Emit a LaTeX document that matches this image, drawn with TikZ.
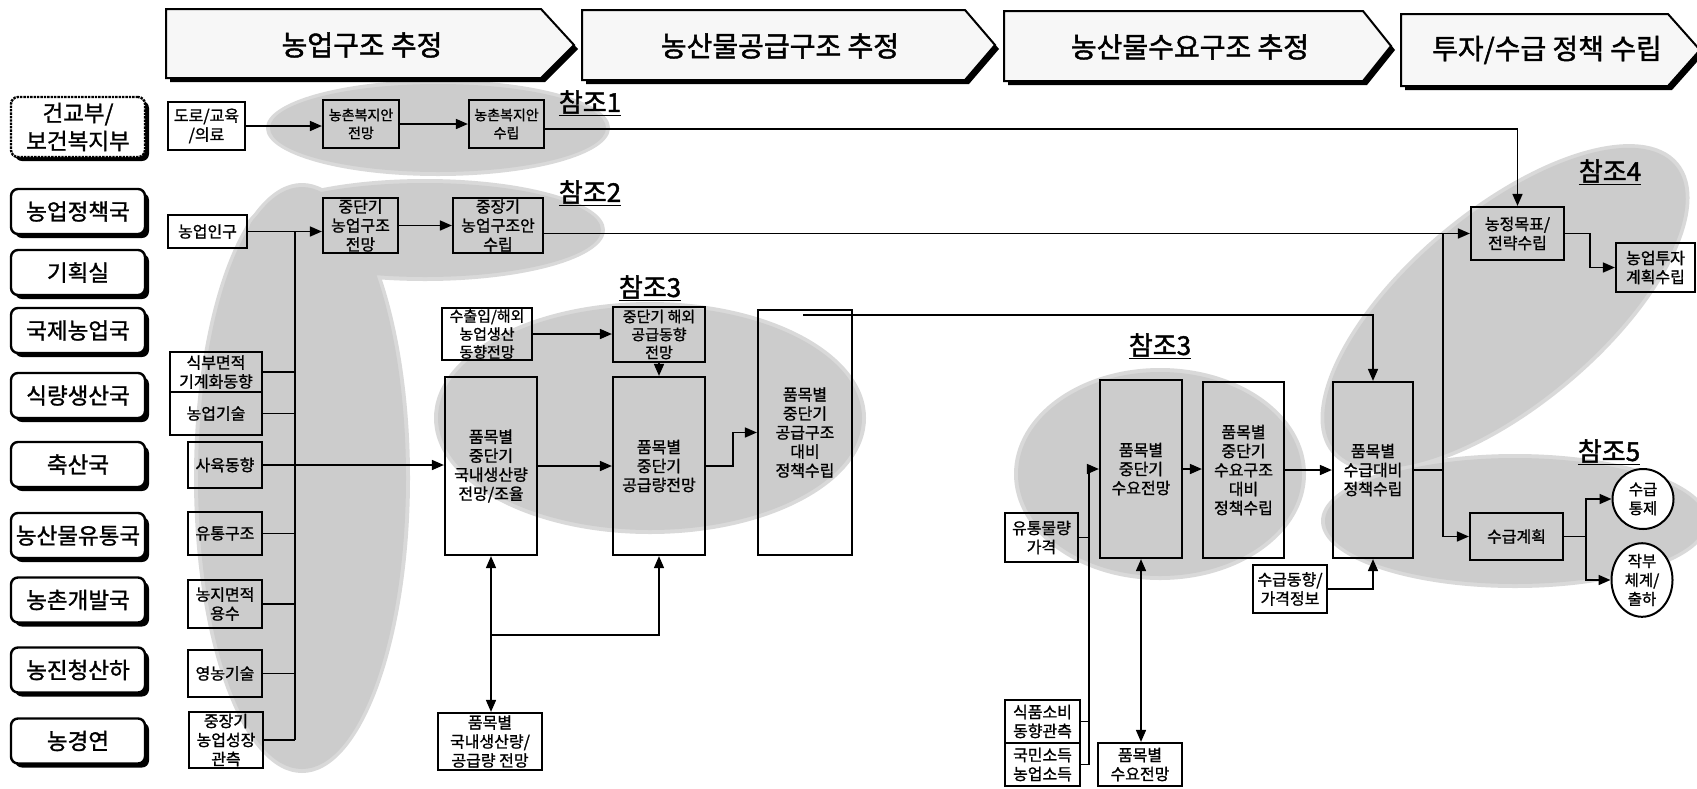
\documentclass[tikz,border=0pt]{standalone}
\usepackage{fontspec}
\newfontfamily\kr{Noto Sans CJK KR}[FakeBold=1.2]
\newfontfamily\krh{Noto Sans CJK KR}[FakeBold=1.6]
\usetikzlibrary{arrows.meta,shadows,calc,shapes.geometric}
\begin{document}
\begin{tikzpicture}[x=1pt,y=-1pt]
\tikzset{
 dept/.style={draw, line width=2.4pt, rounded corners=7pt, fill=white, minimum width=134pt, minimum height=45pt, inner sep=0pt, align=center, font=\kr\fontsize{22.5}{28}\selectfont, drop shadow={shadow xshift=4pt, shadow yshift=-4pt, fill=black, opacity=1}},
 bx/.style={draw, line width=2.2pt, inner sep=0pt, align=center, font=\kr\fontsize{16}{19}\selectfont},
 sz/.style 2 args={minimum width=#1pt, minimum height=#2pt},
 blobout/.style={fill=gray!30},
 blob/.style={fill=gray!40},
 arr/.style={line width=1.6pt, -{Triangle[length=12pt,width=10pt]}},
 darr/.style={line width=1.6pt, {Triangle[length=12pt,width=10pt]}-{Triangle[length=12pt,width=10pt]}},
 ln/.style={line width=1.6pt},
 hdr/.style={draw, line width=2pt, fill=gray!6, drop shadow={shadow xshift=4pt, shadow yshift=-4pt, fill=black, opacity=1}},
 htext/.style={font=\krh\fontsize{28}{32}\selectfont},
 reflabel/.style={font=\krh\fontsize{26}{30}\selectfont, inner sep=0pt},
 circ/.style={draw, ellipse, line width=2pt, fill=white, inner sep=0pt, align=center, font=\kr\fontsize{15.5}{19}\selectfont},
}
\useasboundingbox (0,0) rectangle (1697,788);
\fill[white] (0,0) rectangle (1697,788);

% gray blobs (soft rim + core)
\fill[blobout] (438,128) ellipse [x radius=172, y radius=48];
\fill[blobout] (425,230) ellipse [x radius=180, y radius=51];
\fill[blobout] (302,478) ellipse [x radius=108, y radius=295];
\fill[blobout] (650,418) ellipse [x radius=216, y radius=116];
\fill[blobout] (1160,474) ellipse [x radius=146, y radius=106];
\fill[blobout, rotate around={40:(1505,308)}] (1505,308) ellipse [x radius=226, y radius=99];
\fill[blobout] (1515,521) ellipse [x radius=194, y radius=67];
\fill[blob] (438,128) ellipse [x radius=168, y radius=44];
\fill[blob] (425,230) ellipse [x radius=176, y radius=47];
\fill[blob] (302,478) ellipse [x radius=104, y radius=291];
\fill[blob] (650,418) ellipse [x radius=212, y radius=112];
\fill[blob] (1160,474) ellipse [x radius=142, y radius=102];
\fill[blob, rotate around={40:(1505,308)}] (1505,308) ellipse [x radius=222, y radius=95];
\fill[blob] (1515,521) ellipse [x radius=190, y radius=63];

% header arrows
\draw[hdr] (166,9) -- (541,9) -- (574,45) -- (541,78) -- (166,78) -- cycle;
\draw[hdr] (582,10) -- (965,10) -- (995,45) -- (965,80) -- (582,80) -- cycle;
\draw[hdr] (1004,11) -- (1363,11) -- (1391,46) -- (1363,81) -- (1004,81) -- cycle;
\draw[hdr] (1401,14) -- (1668,14) -- (1700,50) -- (1668,86) -- (1401,86) -- cycle;
\node[htext] (h1) at (362,45) {농업구조 추정};
\node[htext] (h2) at (780,46) {농산물공급구조 추정};
\node[htext] (h3) at (1190,47) {농산물수요구조 추정};
\node[htext] (h4) at (1547,50) {투자/수급 정책 수립};

% reference labels
\node[reflabel] (r1) at (590,103) {\underline{참조1}};
\node[reflabel] (r2) at (590,193) {\underline{참조2}};
\node[reflabel] (r3a) at (650,288) {\underline{참조3}};
\node[reflabel] (r3b) at (1160,346) {\underline{참조3}};
\node[reflabel] (r4) at (1610,172) {\underline{참조4}};
\node[reflabel] (r5) at (1609,452) {\underline{참조5}};

% departments
\node[dept, minimum height=60pt, densely dotted] (d0) at (78,127) {건교부/\\보건복지부};
\node[dept] (d1) at (78,211.5) {농업정책국};
\node[dept] (d2) at (78,272.5) {기획실};
\node[dept] (d3) at (78,330.5) {국제농업국};
\node[dept] (d4) at (78,395.5) {식량생산국};
\node[dept] (d5) at (78,464.5) {축산국};
\node[dept] (d6) at (78,535.5) {농산물유통국};
\node[dept] (d7) at (78,600) {농촌개발국};
\node[dept] (d8) at (78,670) {농진청산하};
\node[dept] (d9) at (78,741) {농경연};

% boxes
\node[bx, sz={77}{48}] (road) at (206.5,126) {도로/교육\\/의료};
\node[bx, sz={76}{48}, font=\kr\fontsize{14}{18}\selectfont] (welf1) at (361,124) {농촌복지안\\전망};
\node[bx, sz={75}{48}, font=\kr\fontsize{14}{18}\selectfont] (welf2) at (506.5,124) {농촌복지안\\수립};
\node[bx, sz={79}{33}] (pop) at (207.5,231.5) {농업인구};
\node[bx, sz={75}{55}] (st1) at (360.5,225.5) {중단기\\농업구조\\전망};
\node[bx, sz={90}{55}] (st2) at (498,225.5) {중장기\\농업구조안\\수립};
\node[bx, sz={92}{40}] (plant) at (216,372) {식부면적\\기계화동향};
\node[bx, sz={92}{43}] (tech) at (216,413.5) {농업기술};
\node[bx, sz={74}{46}] (live) at (225,465) {사육동향};
\node[bx, sz={74}{43}] (dist) at (225,533.5) {유통구조};
\node[bx, sz={74}{48}] (land) at (225,604) {농지면적\\용수};
\node[bx, sz={74}{47}] (farm) at (225,673.5) {영농기술};
\node[bx, sz={74}{56}] (grow) at (226,740) {중장기\\농업성장\\관측};
\node[bx, sz={90}{52}, font=\kr\fontsize{15}{18}\selectfont] (exim) at (487,334) {수출입/해외\\농업생산\\동향전망};
\node[bx, sz={92}{178}] (dom) at (491,466) {품목별\\중단기\\국내생산량\\전망/조율};
\node[bx, sz={92}{55}, font=\kr\fontsize{15}{18}\selectfont] (fsup) at (659,334.5) {중단기 해외\\공급동향\\전망};
\node[bx, sz={92}{178}] (sup) at (659,466) {품목별\\중단기\\공급량전망};
\node[bx, sz={94}{245}] (suppol) at (805,432.5) {품목별\\중단기\\공급구조\\대비\\정책수립};
\node[bx, sz={104}{57}] (domout) at (490,741.5) {품목별\\국내생산량/\\공급량 전망};
\node[bx, sz={73}{49}] (flow) at (1041.5,537.5) {유통물량\\가격};
\node[bx, sz={82}{178}] (dem) at (1141,469) {품목별\\중단기\\수요전망};
\node[bx, sz={81}{176}] (dempol) at (1243.5,470) {품목별\\중단기\\수요구조\\대비\\정책수립};
\node[bx, sz={80}{176}] (sd) at (1373,470) {품목별\\수급대비\\정책수립};
\node[bx, sz={75}{43}] (food) at (1042.5,721.5) {식품소비\\동향관측};
\node[bx, sz={75}{43}] (inc) at (1042.5,764.5) {국민소득\\농업소득};
\node[bx, sz={84}{43}] (demout) at (1140,764.5) {품목별\\수요전망};
\node[bx, sz={74}{48}] (sdinfo) at (1290,589) {수급동향/\\가격정보};
\node[bx, sz={93}{53}] (goal) at (1517.5,233.5) {농정목표/\\전략수립};
\node[bx, sz={79}{49}] (invest) at (1655.5,267.5) {농업투자\\계획수립};
\node[bx, sz={93}{47}] (plan) at (1516.5,536.5) {수급계획};
\node[circ, minimum width=61pt, minimum height=60pt] (ctrl) at (1643,499) {수급\\통제};
\node[circ, minimum width=61pt, minimum height=72pt] (crop) at (1642,580) {작부\\체계/\\출하};

% coordinates
\coordinate (bus) at (295,0);
\coordinate (dbus) at (1089,0);
\coordinate (vbus) at (1443,0);
\coordinate (sref) at (803,315);

% connectors row 1
\draw[arr] (road.east) -- (road.east -| welf1.west);
\draw[arr] (welf1.east) -- (welf1.east -| welf2.west);
\draw[arr] ($(welf2.east)+(0,5)$) -| (goal.north);
% row 2
\draw[arr] (pop.east) -- (pop.east -| st1.west);
\draw[arr] (st1.east) -- (st1.east -| st2.west);
\draw[arr] (st2.east |- goal.west) -- (goal.west);
% left bus
\draw[ln] (pop.east -| bus) -- (grow.east -| bus);
\foreach \b in {plant,tech,live,dist,land,farm,grow} \draw[ln] (\b.east) -- (\b.east -| bus);
\draw[arr] (live.east -| bus) -- (live.east -| dom.west);
% supply
\draw[arr] (exim.east) -- (exim.east -| fsup.west);
\draw[arr] (fsup.south) -- (fsup.south |- sup.north);
\draw[arr] (dom.east) -- (dom.east -| sup.west);
\draw[arr] (sup.east) -- ++(27,0) |- (suppol.west);
\draw[arr] (sref) -| (sd.north);
\draw[darr] (dom.south) -- (dom.south |- domout.north);
\draw[arr] (dom.south |- 0,635) -| (sup.south);
% demand
\draw[ln] (flow.east) -- (flow.east -| dbus);
\draw[ln] (food.east) -- (food.east -| dbus);
\draw[ln] (inc.east) -- (inc.east -| dbus);
\draw[arr] (inc.east -| dbus) |- (dem.west);
\draw[arr] (dem.east) -- (dem.east -| dempol.west);
\draw[arr] (dempol.east) -- (dempol.east -| sd.west);
\draw[darr] (dem.south) -- (dem.south |- demout.north);
\draw[arr] (sdinfo.east) -| (sd.south);
% policy
\draw[ln] (sd.east) -- (sd.east -| vbus);
\draw[arr] (goal.west -| vbus) |- (plan.west);
\draw[arr] (goal.east) -- ++(25,0) |- (invest.west);
\draw[arr] (plan.east) -- ++(22,0) |- (ctrl.west);
\draw[arr] (plan.east) -- ++(22,0) |- (crop.west);
\end{tikzpicture}
\end{document}
